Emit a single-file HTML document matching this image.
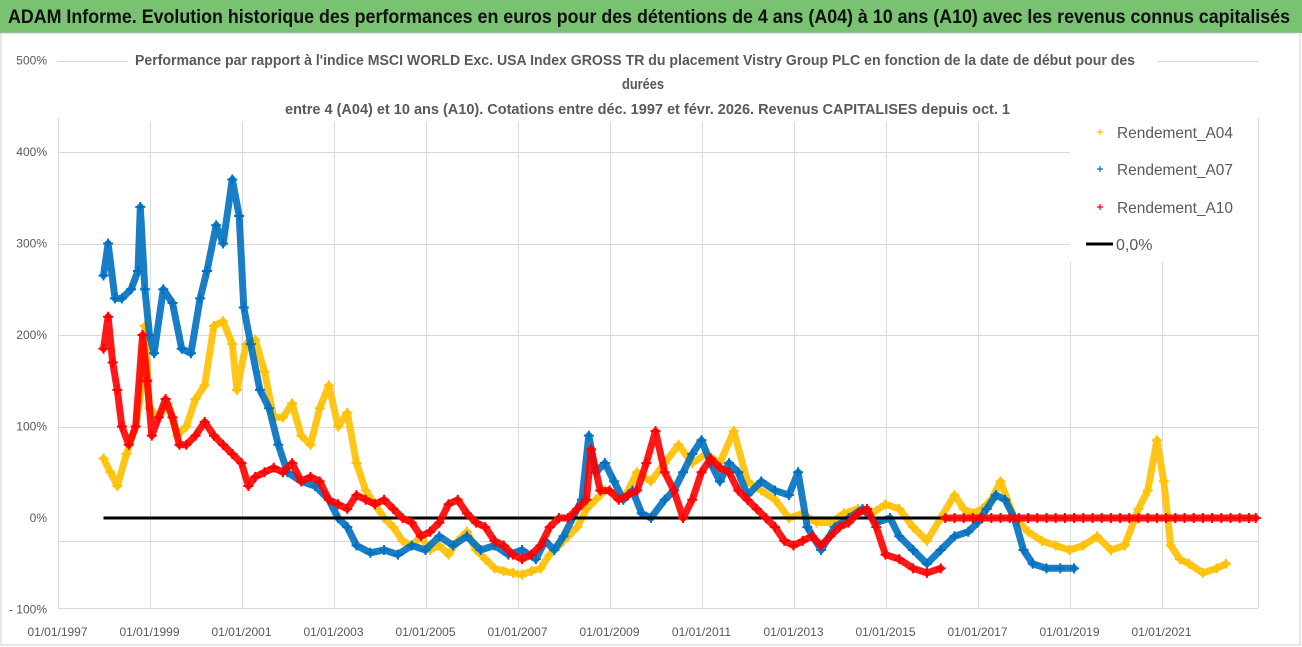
<!DOCTYPE html>
<html><head><meta charset="utf-8">
<style>
html,body{margin:0;padding:0;background:#fff;}
body{width:1302px;height:647px;overflow:hidden;position:relative;font-family:"Liberation Sans",sans-serif;}
#bar{position:absolute;left:0;top:0;width:1302px;height:32px;background:#78c272;border-bottom:1px solid #5fa85a;}
svg{position:absolute;left:0;top:0;}
</style></head><body>
<div id="bar"></div>
<svg id="chart" width="1302" height="647">
<text x="8" y="23" font-size="19" font-weight="bold" fill="#111" textLength="1282" lengthAdjust="spacingAndGlyphs">ADAM Informe. Evolution historique des performances en euros pour des détentions de 4 ans (A04) à 10 ans (A10) avec les revenus connus capitalisés</text>
</svg>
<script>
const yTicks=[500,400,300,200,100,0,-100];
const yTickLabels=['500%','400%','300%','200%','100%','0%','- 100%'];
const xTickYears=[1997,1999,2001,2003,2005,2007,2009,2011,2013,2015,2017,2019,2021];
const xTickLabels=['01/01/1997','01/01/1999','01/01/2001','01/01/2003','01/01/2005','01/01/2007','01/01/2009','01/01/2011','01/01/2013','01/01/2015','01/01/2017','01/01/2019','01/01/2021'];
const a04Years=[1998.0,1998.15,1998.3,1998.5,1998.7,1998.85,1998.9,1999.0,1999.2,1999.4,1999.6,1999.8,2000.0,2000.2,2000.4,2000.6,2000.8,2000.9,2001.1,2001.3,2001.5,2001.7,2001.9,2002.1,2002.3,2002.5,2002.7,2002.9,2003.1,2003.3,2003.5,2003.7,2003.9,2004.1,2004.3,2004.5,2004.7,2004.9,2005.1,2005.3,2005.5,2005.7,2005.9,2006.1,2006.3,2006.5,2006.7,2006.9,2007.1,2007.3,2007.5,2007.7,2007.9,2008.1,2008.3,2008.5,2008.7,2008.9,2009.0,2009.3,2009.6,2009.9,2010.2,2010.5,2010.8,2011.1,2011.4,2011.7,2012.0,2012.3,2012.6,2012.9,2013.2,2013.5,2013.8,2014.1,2014.4,2014.7,2015.0,2015.3,2015.6,2015.9,2016.2,2016.5,2016.7,2016.9,2017.1,2017.3,2017.5,2017.8,2018.1,2018.4,2018.7,2019.0,2019.3,2019.6,2019.9,2020.2,2020.5,2020.7,2020.9,2021.05,2021.2,2021.4,2021.6,2021.9,2022.2,2022.4];
const a04Values=[65,50,35,70,100,150,210,120,110,125,90,100,130,145,210,215,190,140,190,195,160,110,110,125,90,80,120,145,100,115,60,30,15,0,-10,-25,-30,-20,-35,-30,-40,-25,-15,-35,-45,-55,-58,-60,-62,-58,-55,-40,-30,-20,-10,10,20,30,30,20,50,40,60,80,60,70,60,95,40,30,20,0,5,-5,-5,5,10,5,15,10,-10,-25,0,25,10,5,10,20,40,0,-15,-25,-30,-35,-30,-20,-35,-30,10,30,85,40,-30,-45,-50,-60,-55,-50];
const a07Years=[1998.0,1998.1,1998.25,1998.4,1998.6,1998.75,1998.8,1998.9,1999.0,1999.1,1999.3,1999.5,1999.7,1999.9,2000.1,2000.25,2000.45,2000.6,2000.8,2000.95,2001.05,2001.2,2001.4,2001.6,2001.8,2002.0,2002.3,2002.6,2002.9,2003.1,2003.3,2003.5,2003.8,2004.1,2004.4,2004.7,2005.0,2005.3,2005.6,2005.9,2006.2,2006.5,2006.8,2007.1,2007.4,2007.6,2007.8,2008.0,2008.2,2008.4,2008.55,2008.7,2008.9,2009.1,2009.3,2009.5,2009.7,2009.9,2010.2,2010.4,2010.6,2010.8,2011.0,2011.2,2011.4,2011.6,2011.8,2012.0,2012.3,2012.6,2012.9,2013.1,2013.3,2013.6,2013.9,2014.2,2014.5,2014.8,2015.1,2015.3,2015.6,2015.9,2016.2,2016.5,2016.8,2017.0,2017.2,2017.4,2017.6,2017.8,2018.0,2018.2,2018.5,2018.8,2019.1];
const a07Values=[265,300,240,240,250,270,340,250,200,180,250,235,185,180,240,270,320,300,370,330,230,190,140,120,80,50,40,35,20,0,-10,-30,-38,-35,-40,-30,-35,-20,-30,-20,-35,-30,-40,-35,-45,-25,-35,-20,0,20,90,50,60,40,20,30,5,0,20,30,50,70,85,60,40,60,50,25,40,30,25,50,-10,-35,-10,0,10,-5,0,-20,-35,-50,-35,-20,-15,-5,10,25,20,0,-35,-50,-55,-55,-55];
const a10Years=[1998.0,1998.1,1998.2,1998.3,1998.4,1998.55,1998.7,1998.85,1998.95,1999.05,1999.2,1999.35,1999.5,1999.65,1999.8,2000.0,2000.2,2000.4,2000.6,2000.8,2001.0,2001.15,2001.3,2001.5,2001.7,2001.9,2002.1,2002.3,2002.5,2002.7,2002.9,2003.1,2003.3,2003.5,2003.7,2003.9,2004.1,2004.3,2004.5,2004.7,2004.9,2005.1,2005.3,2005.5,2005.7,2005.9,2006.1,2006.3,2006.5,2006.7,2006.9,2007.1,2007.3,2007.5,2007.7,2007.9,2008.1,2008.3,2008.5,2008.6,2008.8,2009.0,2009.2,2009.4,2009.6,2009.8,2010.0,2010.2,2010.4,2010.6,2010.8,2011.0,2011.2,2011.4,2011.6,2011.8,2012.0,2012.2,2012.4,2012.6,2012.8,2013.0,2013.2,2013.4,2013.6,2013.8,2014.0,2014.2,2014.4,2014.6,2014.8,2015.0,2015.3,2015.6,2015.9,2016.2];
const a10Values=[185,220,170,140,100,80,100,200,150,90,110,130,110,80,80,90,105,90,80,70,60,35,45,50,55,50,60,40,45,40,20,15,10,25,20,15,20,10,0,-5,-20,-15,-5,15,20,5,-5,-10,-25,-30,-40,-45,-40,-30,-10,0,0,10,20,75,30,30,20,25,30,60,95,50,30,0,20,50,65,55,50,30,20,10,0,-10,-25,-30,-25,-20,-30,-20,-10,-5,5,10,-10,-40,-45,-55,-60,-55];
const a10FlatYears=[2016.3,2016.5,2016.7,2016.9,2017.1,2017.3,2017.5,2017.7,2017.9,2018.1,2018.3,2018.5,2018.7,2018.9,2019.1,2019.3,2019.5,2019.7,2019.9,2020.1,2020.3,2020.5,2020.7,2020.9,2021.1,2021.3,2021.5,2021.7,2021.9,2022.1,2022.3,2022.5,2022.7,2022.9,2023.05];
const a10FlatValues=[0,0,0,0,0,0,0,0,0,0,0,0,0,0,0,0,0,0,0,0,0,0,0,0,0,0,0,0,0,0,0,0,0,0,0];
const zeroLineYears=[1998.0,2016.4];

const NS='http://www.w3.org/2000/svg';
const svg=document.getElementById('chart');
const X0=57.5,PXY=46,Y0=518,PXV=0.915;
function xs(yr){return X0+(yr-1997)*PXY;}
function ys(v){return Y0-v*PXV;}
function mk(tag,attrs,parent){const e=document.createElementNS(NS,tag);for(const k in attrs)e.setAttribute(k,attrs[k]);(parent||svg).appendChild(e);return e;}

const frame=mk('rect',{x:1,y:33,width:1299,height:612,fill:'none',stroke:'#d0d0d0','stroke-width':1});



const grid=mk('g',{stroke:'#d9d9d9','stroke-width':1});


yTicks.forEach(v=>{
  if(v<=0)return;
  const y=Math.round(ys(v))+0.5;
  const l=mk('line',{x1:X0,x2:1258,y1:y,y2:y},grid);
  
  
});
[541.5,608.5].forEach(y=>{
  const l=mk('line',{x1:X0,x2:1258,y1:y,y2:y},grid);
  
  
});
xTickYears.forEach(yr=>{
  const x=Math.round(xs(yr))+0.5;
  const l=mk('line',{x1:x,x2:x,y1:118,y2:608},grid);
  
  
});
const vr=mk('line',{x1:1258.5,x2:1258.5,y1:118,y2:608},grid);



yTicks.forEach((v,i)=>{
  const t=mk('text',{x:47,y:ys(v)+4,'text-anchor':'end','font-size':12,fill:'#595959'});
  t.textContent=yTickLabels[i];
  
  
});
xTickYears.forEach((yr,i)=>{
  const t=mk('text',{x:xs(yr),y:636,'text-anchor':'middle','font-size':12,fill:'#595959'});
  t.textContent=xTickLabels[i];
  
  
});

const tb=mk('rect',{x:128,y:44,width:1030,height:78,fill:'#fff'});


const titleLines=["Performance par rapport à l'indice MSCI WORLD Exc. USA Index GROSS TR  du placement Vistry Group PLC en fonction de la date de début pour des","durées","entre 4 (A04) et 10 ans (A10). Cotations entre déc. 1997 et févr. 2026. Revenus CAPITALISES depuis oct. 1"];
const titleX=[135,622,285],titleY=[65,89,114],titleW=[1000,42,725];
titleLines.forEach((s,i)=>{
  const t=mk('text',{x:titleX[i],y:titleY[i],'font-size':14.5,'font-weight':'bold',fill:'#595959',textLength:titleW[i],lengthAdjust:'spacingAndGlyphs'});
  t.textContent=s;
  
  
});

function drawSeries(name,yrs,vals,color){
  const g=mk('g',{});
  
  
  let d='';
  yrs.forEach((yr,i)=>{d+=(i?'L':'M')+xs(yr).toFixed(1)+' '+ys(vals[i]).toFixed(1);});
  const p=mk('path',{d:d,fill:'none',stroke:color,'stroke-width':7,'stroke-linejoin':'round','stroke-linecap':'round',opacity:0.9},g);
  
  
  yrs.forEach((yr,i)=>{
    const x=xs(yr),y=ys(vals[i]);
    const m=mk('path',{d:`M${x-5} ${y}H${x+5}M${x} ${y-5}V${y+5}`,stroke:color,'stroke-width':2},g);
    
    
  });
}
drawSeries('series-a04',a04Years,a04Values,'#ffc000');
drawSeries('series-a07',a07Years,a07Values,'#0070c0');
const z=mk('line',{x1:xs(zeroLineYears[0]),x2:xs(zeroLineYears[1]),y1:ys(0),y2:ys(0),stroke:'#000','stroke-width':3});


drawSeries('series-a10',a10Years,a10Values,'#ff0000');
drawSeries('series-a10-flat',a10FlatYears,a10FlatValues,'#ff0000');

const lg=mk('g',{});


const lb=mk('rect',{x:1070,y:112,width:188,height:150,fill:'#fff'},lg);


const legNames=['Rendement_A04','Rendement_A07','Rendement_A10'];
const legColors=['#ffc000','#0070c0','#ff0000'];
const legY=[132,169,207];
legNames.forEach((n,i)=>{
  const e=mk('g',{},lg);
  
  
  const x=1100,y=legY[i];
  mk('path',{d:`M${x-3} ${y}H${x+3}M${x} ${y-3}V${y+3}`,stroke:legColors[i],'stroke-width':1.2},e);
  const t=mk('text',{x:1117,y:y+6,'font-size':16,fill:'#595959',textLength:116,lengthAdjust:'spacingAndGlyphs'},e);
  t.textContent=n;
});
const ze=mk('g',{},lg);


mk('line',{x1:1086,x2:1113,y1:244,y2:244,stroke:'#000','stroke-width':3},ze);
const zt=mk('text',{x:1116,y:250,'font-size':16,fill:'#595959'},ze);
zt.textContent='0,0%';
</script>
</body></html>
